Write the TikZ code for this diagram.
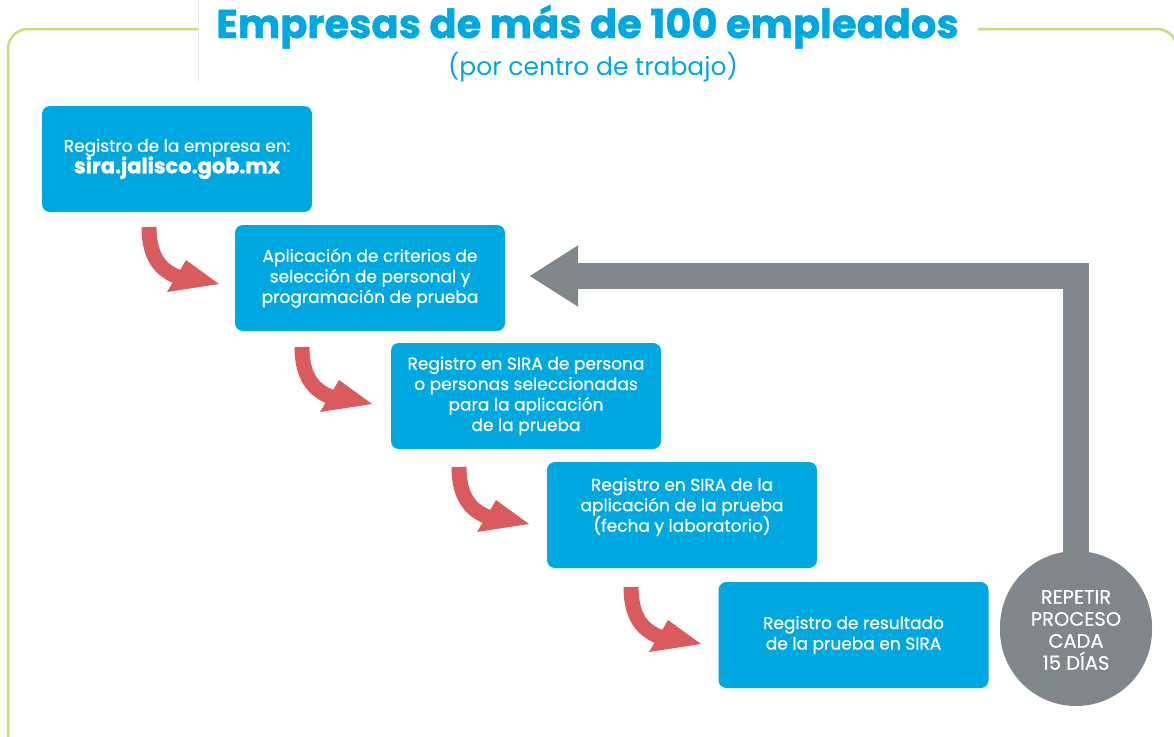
\documentclass[tikz,border=0pt]{standalone}
\usepackage{fontspec}
\setmainfont{Poppins}
\newfontfamily\titlefont{Poppins}[BoldFeatures={FakeBold=1.2}]
\newfontfamily\boxfont{Poppins}[UprightFeatures={FakeBold=0.6}]
\usetikzlibrary{arrows.meta,calc}
\definecolor{boxblue}{RGB}{0,168,225}
\definecolor{arrowred}{RGB}{217,91,94}
\definecolor{loopgray}{RGB}{126,135,140}
\definecolor{framegreen}{RGB}{196,222,120}
\definecolor{faintline}{RGB}{232,238,222}
\tikzset{
  stepbox/.style={rectangle, rounded corners=8pt, fill=boxblue, text=white,
    minimum width=270pt, minimum height=106pt, inner sep=0pt, align=center,
    font=\boxfont\fontsize{17}{20.5}\selectfont},
  redarrow/.pic={
    \draw[line width=15pt, arrowred] (0,0) .. controls (0,-28) and (10,-44) .. (32,-51);
    \fill[arrowred] (37,-33) -- (70,-57) -- (18,-65) -- (27,-50) -- cycle;
  },
  loop/.style={draw=loopgray, line width=26pt, line join=miter,
    -{Triangle[length=49pt,width=58pt]}},
  frame/.style={draw=framegreen, line width=2.5pt, rounded corners=20pt},
}
\begin{document}
\begin{tikzpicture}[x=1pt,y=1pt]
\useasboundingbox (0,0) rectangle (1174,-736);
% frame
\draw[faintline, line width=1pt] (198,0) -- (198,-82);
\draw[frame] (198,-29) -- (8,-29) -- (8,-745);
\draw[frame] (978,-29) -- (1177,-29) -- (1177,-745);
% title
\node[anchor=base, text=boxblue, font=\titlefont\fontsize{40}{44}\selectfont\bfseries, inner sep=0pt] (title) at (587.5,-38) {Empresas de más de 100 empleados};
\node[text=boxblue, font=\fontsize{25}{28}\selectfont, inner sep=0pt] (subtitle) at (593,-67) {(por centro de trabajo)};
% boxes
\node[stepbox] (b1) at (177,-159) {Registro de la empresa en:\\[-1pt]{\titlefont\fontsize{21}{22}\selectfont\bfseries sira.jalisco.gob.mx}};
\node[stepbox] (b2) at (370,-278) {Aplicación de criterios de\\selección de personal y\\programación de prueba};
\node[stepbox] (b3) at (526,-396) {Registro en SIRA de persona\\o personas seleccionadas\\para la aplicación\\de la prueba};
\node[stepbox] (b4) at (682,-515) {Registro en SIRA de la\\aplicación de la prueba\\(fecha y laboratorio)\\~};
\node[stepbox] (b5) at (853.5,-635) {Registro de resultado\\de la prueba en SIRA};
% red arrows
\pic at (149,-227) {redarrow};
\pic at (302,-347) {redarrow};
\pic at (459,-467) {redarrow};
\pic at (631,-587) {redarrow};
% loop
\node[circle, fill=loopgray, minimum size=152pt, inner sep=0pt] (rep) at (1076,-627) {};
\draw[loop] ($(rep.north)+(0,-8)$) |- ($(b2.east)+(24,2)$);
\node[circle, fill=loopgray, minimum size=152pt, inner sep=0pt, text=white, align=center,
  font=\boxfont\fontsize{19.5}{22}\selectfont] (repc) at (1076,-630) {REPETIR\\PROCESO\\CADA\\15 DÍAS};
\end{tikzpicture}
\end{document}
